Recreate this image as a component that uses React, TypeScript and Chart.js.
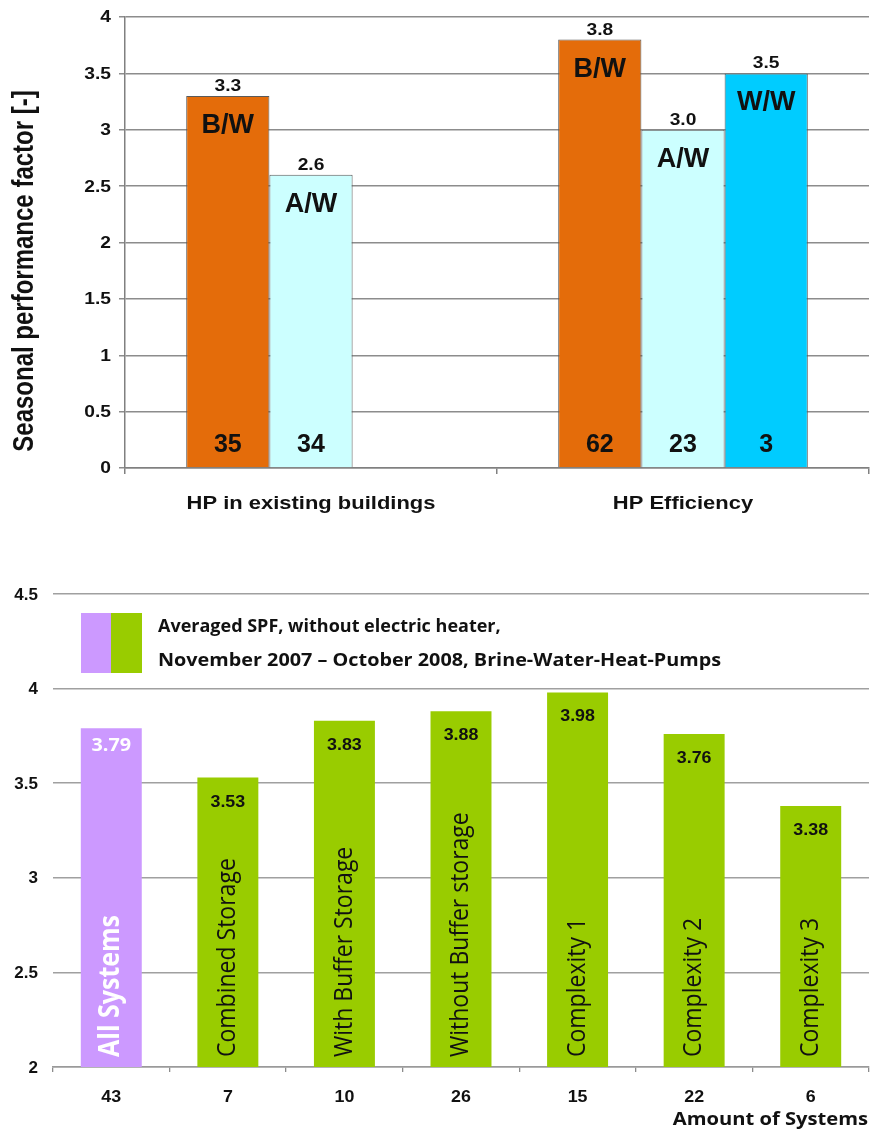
import React, { useEffect, useRef } from 'react';
import { Chart, registerables } from 'chart.js';

Chart.register(...registerables);

// ---------- Top chart data ----------
const topCategories = ['HP in existing buildings', 'HP Efficiency'];
const topSeriesNames = ['B/W', 'A/W', 'W/W'];
const bwValues: (number | null)[] = [3.3, 3.8];
const awValues: (number | null)[] = [2.6, 3.0];
const wwValues: (number | null)[] = [null, 3.5];
const bwCounts: (number | null)[] = [35, 62];
const awCounts: (number | null)[] = [34, 23];
const wwCounts: (number | null)[] = [null, 3];
const topYTitle = 'Seasonal performance factor [-]';

// ---------- Bottom chart data ----------
const bottomCategories = [
  'All Systems',
  'Combined Storage',
  'With Buffer Storage',
  'Without Buffer storage',
  'Complexity 1',
  'Complexity 2',
  'Complexity 3',
];
const bottomValues = [3.79, 3.53, 3.83, 3.88, 3.98, 3.76, 3.38];
const systemCounts = [43, 7, 10, 26, 15, 22, 6];
const legendLines = [
  'Averaged SPF, without electric heater,',
  'November 2007 \u2013 October 2008, Brine-Water-Heat-Pumps',
];
const bottomXTitle = 'Amount of Systems';

const ORANGE = '#E46C0A';
const LIGHTCYAN = '#CCFFFF';
const CYAN = '#00CCFF';
const PURPLE = '#CC99FF';
const GREEN = '#99CC00';

const ARIAL = '"Liberation Sans", Arial, sans-serif';
const FRUT = '"Open Sans", "Noto Sans", sans-serif';

function txt(
  ctx: CanvasRenderingContext2D,
  s: string,
  x: number,
  y: number,
  font: string,
  color: string,
  align: CanvasTextAlign,
  baseline: CanvasTextBaseline,
  sx = 1,
  rot = 0
) {
  ctx.save();
  ctx.translate(x, y);
  ctx.scale(sx, 1);
  if (rot) ctx.rotate(rot);
  ctx.font = font;
  ctx.fillStyle = color;
  ctx.textAlign = align;
  ctx.textBaseline = baseline;
  ctx.fillText(s, 0, 0);
  ctx.restore();
}

const topLabelsPlugin = {
  id: 'topLabels',
  afterDraw(chart: any) {
    const ctx = chart.ctx as CanvasRenderingContext2D;
    const ys = chart.scales.y;
    const xs = chart.scales.x;
    // y tick labels
    ys.ticks.forEach((t: any) => {
      txt(ctx, String(Number(t.value)), 111, ys.getPixelForValue(t.value) + 1, `bold 16px ${ARIAL}`, '#111', 'right', 'middle', 1.2);
    });
    // x category labels
    topCategories.forEach((c, i) => {
      txt(ctx, c, xs.getPixelForValue(i), 509, `bold 18px ${ARIAL}`, '#111', 'center', 'alphabetic', 1.22);
    });
    // y title
    txt(ctx, topYTitle, 25, 271, `bold 24px ${ARIAL}`, '#111', 'center', 'middle', 1.2, -Math.PI / 2);
    // bar labels
    const counts = [bwCounts, awCounts, wwCounts];
    chart.data.datasets.forEach((ds: any, di: number) => {
      const meta = chart.getDatasetMeta(di);
      meta.data.forEach((el: any, i: number) => {
        const v = ds.data[i];
        if (v === null || v === undefined) return;
        txt(ctx, Number(v).toFixed(1), el.x, el.y - 5, `bold 16px ${ARIAL}`, '#111', 'center', 'alphabetic', 1.2);
        txt(ctx, topSeriesNames[di], el.x, el.y + 37, `bold 27px ${ARIAL}`, '#111', 'center', 'alphabetic', 1.0);
        const cnt = counts[di][i];
        if (cnt !== null) {
          txt(ctx, String(cnt), el.x, el.base - 15, `bold 25px ${ARIAL}`, '#111', 'center', 'alphabetic', 1.0);
        }
      });
    });
  },
};

const bottomLabelsPlugin = {
  id: 'bottomLabels',
  afterDraw(chart: any) {
    const ctx = chart.ctx as CanvasRenderingContext2D;
    const ys = chart.scales.y;
    const xs = chart.scales.x;
    ys.ticks.forEach((t: any) => {
      txt(ctx, String(Number(t.value)), 38, ys.getPixelForValue(t.value) + 1, `bold 17px ${ARIAL}`, '#111', 'right', 'middle', 1.0);
    });
    systemCounts.forEach((n, i) => {
      txt(ctx, String(n), xs.getPixelForValue(i), 562, `bold 17px ${ARIAL}`, '#111', 'center', 'alphabetic', 1.05);
    });
    txt(ctx, bottomXTitle, 868, 585, `bold 18px ${FRUT}`, '#111', 'right', 'alphabetic', 1.12);

    // legend
    ctx.save();
    ctx.fillStyle = PURPLE;
    ctx.fillRect(81, 73, 30, 60);
    ctx.fillStyle = GREEN;
    ctx.fillRect(111, 73, 31, 60);
    ctx.restore();
    txt(ctx, legendLines[0], 158, 92, `bold 18px ${FRUT}`, '#111', 'left', 'alphabetic', 1.0);
    txt(ctx, legendLines[1], 158, 126, `bold 18px ${FRUT}`, '#111', 'left', 'alphabetic', 1.1);

    const bottomPx = ys.getPixelForValue(ys.min);
    const meta = chart.getDatasetMeta(0);
    meta.data.forEach((el: any, i: number) => {
      const first = i === 0;
      txt(
        ctx,
        bottomValues[i].toFixed(2),
        el.x,
        el.y + (first ? 23 : 29),
        first ? `bold 18px ${FRUT}` : `bold 17px ${ARIAL}`,
        first ? '#ffffff' : '#111',
        'center',
        'alphabetic',
        first ? 1.1 : 1.05
      );
      txt(
        ctx,
        bottomCategories[i],
        el.x,
        bottomPx - 10,
        first ? `bold 25px ${FRUT}` : `23px ${FRUT}`,
        first ? '#ffffff' : '#111',
        'left',
        'middle',
        1.12,
        -Math.PI / 2
      );
    });
  },
};

function TopChart() {
  const ref = useRef<HTMLCanvasElement>(null);
  useEffect(() => {
    if (!ref.current) return;
    const chart = new Chart(ref.current, {
      type: 'bar',
      data: {
        labels: topCategories,
        datasets: [
          { label: topSeriesNames[0], data: bwValues, backgroundColor: ORANGE, borderColor: '#5a5a5a', borderWidth: 1 },
          { label: topSeriesNames[1], data: awValues, backgroundColor: LIGHTCYAN, borderColor: '#5a5a5a', borderWidth: 1 },
          { label: topSeriesNames[2], data: wwValues, backgroundColor: CYAN, borderColor: '#5a5a5a', borderWidth: 1 },
        ],
      } as any,
      options: {
        animation: false,
        responsive: false,
        maintainAspectRatio: false,
        layout: { padding: { top: 17, right: 1, left: 0, bottom: 0 } },
        plugins: { legend: { display: false }, tooltip: { enabled: false } },
        datasets: { bar: { categoryPercentage: 0.671, barPercentage: 1 } },
        scales: {
          x: {
            ticks: { display: false },
            grid: { drawOnChartArea: false, drawTicks: true, tickLength: 6, color: '#808080', lineWidth: 1.5, offset: true },
            border: { color: '#808080', width: 1.5 },
            afterFit: (s: any) => {
              s.height = 67;
            },
          },
          y: {
            min: 0,
            max: 4,
            ticks: { stepSize: 0.5, display: false },
            grid: { color: '#8c8c8c', lineWidth: 1.5, tickLength: 6 },
            border: { color: '#808080', width: 1.5 },
            afterFit: (s: any) => {
              s.width = 125;
            },
          },
        },
      } as any,
      plugins: [topLabelsPlugin],
    });
    return () => chart.destroy();
  }, []);
  return (
    <canvas
      ref={ref}
      width={870}
      height={535}
      style={{ position: 'absolute', left: 0, top: 0, width: 870, height: 535, display: 'block' }}
    />
  );
}

function BottomChart() {
  const ref = useRef<HTMLCanvasElement>(null);
  useEffect(() => {
    if (!ref.current) return;
    const chart = new Chart(ref.current, {
      type: 'bar',
      data: {
        labels: bottomCategories,
        datasets: [
          {
            label: 'SPF',
            data: bottomValues,
            backgroundColor: bottomValues.map((_, i) => (i === 0 ? PURPLE : GREEN)),
            borderWidth: 0,
          },
        ],
      },
      options: {
        animation: false,
        responsive: false,
        maintainAspectRatio: false,
        layout: { padding: { top: 54, right: 1, left: 0, bottom: 0 } },
        plugins: { legend: { display: false }, tooltip: { enabled: false } },
        datasets: { bar: { categoryPercentage: 1, barPercentage: 0.523 } },
        scales: {
          x: {
            ticks: { display: false },
            grid: { drawOnChartArea: false, drawTicks: true, tickLength: 5, color: '#8c8c8c', lineWidth: 1.3, offset: true },
            border: { color: '#9a9a9a', width: 1.5 },
            afterFit: (s: any) => {
              s.height = 64;
            },
          },
          y: {
            min: 2,
            max: 4.5,
            ticks: { stepSize: 0.5, display: false },
            grid: { color: '#a0a0a0', lineWidth: 1.5, drawTicks: false },
            border: { display: false },
            afterFit: (s: any) => {
              s.width = 53;
            },
          },
        },
      } as any,
      plugins: [bottomLabelsPlugin],
    });
    return () => chart.destroy();
  }, []);
  return (
    <canvas
      ref={ref}
      width={870}
      height={591}
      style={{ position: 'absolute', left: 0, top: 540, width: 870, height: 591, display: 'block' }}
    />
  );
}

export default function App() {
  return (
    <div style={{ position: 'absolute', left: 0, top: 0, width: 870, height: 1131, background: '#ffffff', overflow: 'hidden' }}>
      <TopChart />
      <BottomChart />
    </div>
  );
}
